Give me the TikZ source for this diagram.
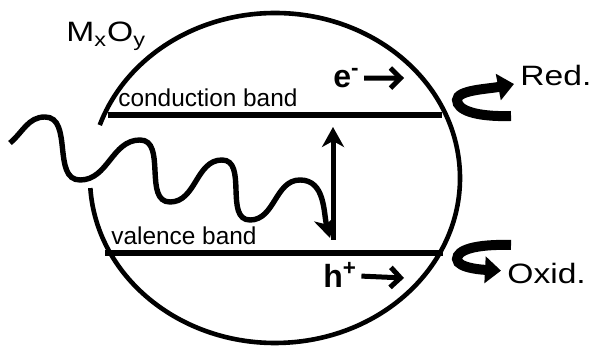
\documentclass[tikz,border=0pt]{standalone}
\usepackage{fontspec}
\setmainfont{Liberation Sans}
\newfontfamily\widefont[FakeStretch=1.2]{Liberation Sans}
\usetikzlibrary{arrows.meta,positioning}

\begin{document}
\begin{tikzpicture}[
  x=0.5pt,y=0.5pt,
  every node/.style={inner sep=0pt},
  shell/.style={line width=2.3pt},
  band/.style={line width=2.6pt},
  lbl/.style={font=\fontsize{12.2}{14}\selectfont},
  wave/.style={line width=2.7pt,-{Stealth[length=10pt,width=11pt,inset=3pt]}},
  excite/.style={line width=2.5pt,-{Stealth[length=10pt,width=11pt,inset=3pt]}},
  carrier/.style={font=\fontsize{16}{18}\selectfont\bfseries},
  cflow/.style={line width=2.5pt,-{Straight Barb[length=5pt,width=10pt]},shorten <=2pt},
  redox/.style={line width=5pt,-{Triangle[length=8pt,width=13pt]}},
  rlbl/.style={font=\widefont\fontsize{14}{16}\selectfont,inner sep=3pt}
]
  \useasboundingbox (0,0) rectangle (592,346);
  % particle outline, open on the left where the light enters
  \coordinate (ctr) at (275,168);
  \draw[shell] (ctr) ++(183.5:92.5pt and 82.5pt)
    arc[start angle=183.5,end angle=521.3,x radius=92.5pt,y radius=82.5pt];
  \node[rlbl,inner sep=0pt,anchor=base west] (oxide) at (66,304)
    {M\textsubscript{x}O\textsubscript{y}};
  % bands
  \coordinate (cbL) at (108,231); \coordinate (cbR) at (442,231);
  \coordinate (vbL) at (105,93);  \coordinate (vbR) at (443,93);
  \foreach \bnd in {cb,vb}
    {\draw[band] (\bnd L) -- (\bnd R);}
  \node[lbl,above right=4pt and 5pt of cbL] (cblbl) {conduction band};
  \node[lbl,above right=4pt and 3pt of vbL] (vblbl) {valence band};
  % incoming light
  \coordinate (w0) at (10,203);
  \coordinate (wEnd) at (330,108);
  \draw[wave] (w0) to[out=40,in=180] (45,229) to[out=0,in=180] (80,166)
    to[out=0,in=180] (140,206) to[out=0,in=180] (170,144)
    to[out=0,in=180] (222,186) to[out=0,in=180] (250,126)
    to[out=0,in=180] (300,166) to[out=0,in=105] (wEnd);
  % excitation
  \coordinate (exLo) at (333,106); \coordinate (exHi) at (333,219);
  \draw[excite] (exLo) -- (exHi);
  % charge carriers
  \node[carrier,anchor=base west] (elec) at (333,258) {e\textsuperscript{-}};
  \node[carrier,anchor=base west] (hole) at (323,58) {h\textsuperscript{+}};
  \coordinate (elecTip) at (404,268);
  \coordinate (holeTip) at (404,68);
  \draw[cflow] (elec) -- (elecTip);
  \draw[cflow] (hole) -- (holeTip);
  % surface reactions
  \node[rlbl,anchor=west] (red) at (514,270) {Red.};
  \node[rlbl,anchor=west] (oxid) at (501,73) {Oxid.};
  \coordinate (redTail) at (511,230);
  \coordinate (oxTail) at (511,101);
  \draw[redox] (redTail) .. controls (475,229) and (457,236) .. (457,246)
    .. controls (457,256) and (488,257) .. (red);
  \draw[redox] (oxTail) .. controls (475,102) and (457,96) .. (457,87)
    .. controls (457,77) and (488,76) .. (oxid);
\end{tikzpicture}
\end{document}
